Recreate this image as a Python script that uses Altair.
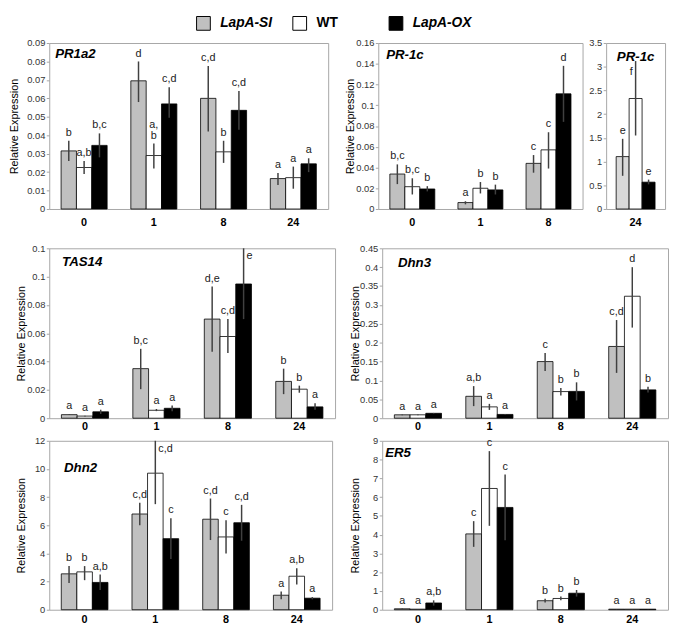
import altair as alt
import pandas as pd

GENOS = ["LapA-SI", "WT", "LapA-OX"]
FILLS = ["#c0c0c0", "#ffffff", "#000000"]
FILLS_24 = ["#d9d9d9", "#ffffff", "#000000"]
T4 = ["0", "1", "8", "24"]
T3 = ["0", "1", "8"]
T1 = ["24"]

# PR1a2
pr1a2_mean = [[0.0315, 0.0225, 0.0345], [0.0695, 0.029, 0.057], [0.060, 0.031, 0.0535], [0.0165, 0.017, 0.0245]]
pr1a2_lo = [[0.026, 0.019, 0.028], [0.058, 0.022, 0.0495], [0.042, 0.025, 0.043], [0.013, 0.011, 0.020]]
pr1a2_hi = [[0.037, 0.026, 0.041], [0.080, 0.0355, 0.066], [0.0775, 0.037, 0.064], [0.0195, 0.023, 0.0275]]
pr1a2_let = [["b", "a,b", "b,c"], ["d", "a,\nb", "c,d"], ["c,d", "b", "c,d"], ["a", "a", "a"]]
pr1a2_ticks = [0, 0.01, 0.02, 0.03, 0.04, 0.05, 0.06, 0.07, 0.08, 0.09]

# PR-1c (0, 1, 8 h)
pr1c_mean = [[0.0337, 0.0215, 0.0193], [0.0062, 0.020, 0.0184], [0.044, 0.057, 0.111]]
pr1c_lo = [[0.024, 0.014, 0.017], [0.0045, 0.015, 0.014], [0.035, 0.039, 0.084]]
pr1c_hi = [[0.043, 0.0296, 0.022], [0.0075, 0.026, 0.0235], [0.052, 0.074, 0.138]]
pr1c_let = [["b,c", "b,c", "b"], ["a", "b", "b"], ["c", "c", "d"]]
pr1c_ticks = [0, 0.02, 0.04, 0.06, 0.08, 0.1, 0.12, 0.14, 0.16]

# PR-1c (24 h)
pr1c24_mean = [[1.105, 2.33, 0.566]]
pr1c24_lo = [[0.70, 1.55, 0.52]]
pr1c24_hi = [[1.48, 3.12, 0.62]]
pr1c24_let = [["e", "f", "e"]]
pr1c24_ticks = [0, 0.5, 1, 1.5, 2, 2.5, 3, 3.5]

# TAS14
tas14_mean = [[0.0025, 0.0015, 0.0045], [0.035, 0.0056, 0.007], [0.070, 0.0577, 0.0948], [0.026, 0.0205, 0.008]]
tas14_lo = [[0.0022, 0.0012, 0.003], [0.0205, 0.005, 0.005], [0.047, 0.046, 0.070], [0.017, 0.018, 0.006]]
tas14_hi = [[0.0028, 0.0018, 0.006], [0.049, 0.0065, 0.009], [0.093, 0.070, 0.12], [0.035, 0.023, 0.0105]]
tas14_let = [["a", "a", "a"], ["b,c", "a", "a"], ["d,e", "c,d", "e"], ["b", "b", "a"]]
tas14_ticks = [0, 0.02, 0.04, 0.06, 0.08, 0.1, 0.12]

# Dhn3
dhn3_mean = [[0.009, 0.009, 0.013], [0.058, 0.030, 0.010], [0.150, 0.0705, 0.071], [0.19, 0.323, 0.075]]
dhn3_lo = [[0.008, 0.008, 0.012], [0.032, 0.022, 0.009], [0.125, 0.06, 0.047], [0.12, 0.24, 0.068]]
dhn3_hi = [[0.010, 0.010, 0.014], [0.085, 0.038, 0.011], [0.173, 0.08, 0.095], [0.26, 0.40, 0.083]]
dhn3_let = [["a", "a", "a"], ["a,b", "a", "a"], ["c", "b", "b"], ["c,d", "d", "b"]]
dhn3_ticks = [0, 0.05, 0.1, 0.15, 0.2, 0.25, 0.3, 0.35, 0.4, 0.45]

# Dhn2
dhn2_mean = [[2.55, 2.69, 1.94], [6.8, 9.7, 5.05], [6.43, 5.17, 6.18], [1.03, 2.38, 0.82]]
dhn2_lo = [[1.9, 2.1, 1.4], [6.0, 7.5, 3.6], [4.95, 4.0, 4.9], [0.75, 1.8, 0.74]]
dhn2_hi = [[3.1, 3.1, 2.5], [7.6, 12.0, 6.5], [7.9, 6.35, 7.45], [1.3, 2.95, 0.9]]
dhn2_let = [["b", "b", "a,b"], ["c,d", "c,d", "c"], ["c,d", "c", "c,d"], ["a", "a,b", "a"]]
dhn2_ticks = [0, 2, 4, 6, 8, 10, 12]

# ER5
er5_mean = [[0.05, 0.03, 0.36], [4.04, 6.46, 5.45], [0.48, 0.6, 0.88], [0.03, 0.03, 0.03]]
er5_lo = [[0.04, 0.02, 0.22], [3.35, 4.47, 3.7], [0.38, 0.5, 0.7], [0.02, 0.02, 0.02]]
er5_hi = [[0.06, 0.04, 0.5], [4.72, 8.45, 7.2], [0.58, 0.7, 1.05], [0.04, 0.04, 0.04]]
er5_let = [["a", "a", "a,b"], ["c", "c", "c"], ["b", "b", "b"], ["a", "a", "a"]]
er5_ticks = [0, 1, 2, 3, 4, 5, 6, 7, 8, 9]

FONT = "Liberation Sans"


def panel(gene, times, means, lows, highs, letters, ymax, yticks, w, h, extent, lab_pad,
          ytitle=True, fills=FILLS, side=None, gene_xy=(6, 4), gene_center=False):
    side = side or {}
    rows = []
    for i, t in enumerate(times):
        for j, g in enumerate(GENOS):
            lt = letters[i][j]
            pos = side.get((t, g), "top2" if "\n" in lt else "top")
            rows.append(dict(time=t, geno=g, col=fills[j], mean=means[i][j], lo=lows[i][j],
                             hi=highs[i][j], letter=lt, side=pos))
    df = pd.DataFrame(rows)
    base = alt.Chart(df)
    title = "Relative Expression" if ytitle else None
    x = alt.X("time:N", sort=times, title=None,
              scale=alt.Scale(paddingInner=0.34, paddingOuter=0.17),
              axis=alt.Axis(labelAngle=0, labelFontSize=11, labelFontWeight="bold",
                            labelColor="black", labelPadding=lab_pad, ticks=False, domain=False))
    xo = alt.XOffset("geno:N", sort=GENOS, scale=alt.Scale(paddingInner=0, paddingOuter=0))
    yscale = alt.Scale(domain=[0, ymax], nice=False, zero=True)
    yaxis = alt.Axis(values=yticks, format="~g", labelFontSize=9.5, labelColor="#333333",
                     labelPadding=1.5, tickSize=3, tickColor="#a6a6a6", domain=False, grid=False,
                     labelOverlap=False,
                     minExtent=extent, maxExtent=extent, titleFontSize=11, titleFontWeight="normal",
                     titleColor="black", titlePadding=1)

    def yenc(field):
        return alt.Y(field, type="quantitative", scale=yscale, axis=yaxis, title=title)

    bars = base.mark_bar(stroke="black", strokeWidth=0.8).encode(
        x=x, xOffset=xo, y=yenc("mean"), fill=alt.Fill("col:N", scale=None))
    err = base.mark_rule(color="#404040", strokeWidth=1.5).encode(
        x=x, xOffset=xo, y=yenc("lo"), y2="hi:Q")
    tk = dict(fontSize=11, color="#222222")
    t_top = base.transform_filter("datum.side == 'top'").mark_text(
        baseline="bottom", dy=-3, **tk).encode(x=x, xOffset=xo, y=yenc("hi"), text="letter:N")
    t_top2 = base.transform_filter("datum.side == 'top2'").mark_text(
        baseline="bottom", dy=-14, lineBreak="\n", lineHeight=11, **tk).encode(
        x=x, xOffset=xo, y=yenc("hi"), text="letter:N")
    t_right = base.transform_filter("datum.side == 'right'").mark_text(
        baseline="top", align="left", dx=3, dy=2, **tk).encode(
        x=x, xOffset=xo, y=yenc("hi"), text="letter:N")
    t_left = base.transform_filter("datum.side == 'left'").mark_text(
        baseline="top", align="right", dx=-3, dy=5, **tk).encode(
        x=x, xOffset=xo, y=yenc("hi"), text="letter:N")
    gdf = pd.DataFrame({"gene": [gene]})
    glabel = alt.Chart(gdf).mark_text(
        align="center" if gene_center else "left", baseline="top", fontSize=13.5,
        fontWeight="bold", fontStyle="italic", color="black").encode(
        x=alt.value(w / 2 if gene_center else gene_xy[0]), y=alt.value(gene_xy[1]), text="gene:N")
    return alt.layer(bars, err, t_top, t_top2, t_right, t_left, glabel).properties(width=w, height=h)


p_pr1a2 = panel("PR1a2", T4, pr1a2_mean, pr1a2_lo, pr1a2_hi, pr1a2_let, 0.09, pr1a2_ticks,
                284, 169, 29, 8, gene_xy=(6, 4))
p_pr1c = panel("PR-1c", T3, pr1c_mean, pr1c_lo, pr1c_hi, pr1c_let, 0.16, pr1c_ticks,
               208, 169, 22, 8, gene_xy=(8, 5))
p_pr1c24 = panel("PR-1c", T1, pr1c24_mean, pr1c24_lo, pr1c24_hi, pr1c24_let, 3.5, pr1c24_ticks,
                 60, 169, 18, 8, ytitle=False, fills=FILLS_24,
                 side={("24", "WT"): "left"}, gene_xy=(0, 7), gene_center=True)
p_tas14 = panel("TAS14", T4, tas14_mean, tas14_lo, tas14_hi, tas14_let, 0.12, tas14_ticks,
                291, 173, 22, 3, side={("8", "LapA-OX"): "right"}, gene_xy=(13, 7))
p_dhn3 = panel("Dhn3", T4, dhn3_mean, dhn3_lo, dhn3_hi, dhn3_let, 0.45, dhn3_ticks,
               291, 173, 21, 3, gene_xy=(16, 8))
p_dhn2 = panel("Dhn2", T4, dhn2_mean, dhn2_lo, dhn2_hi, dhn2_let, 12, dhn2_ticks,
               288, 172, 22, 4, side={("1", "WT"): "right"}, gene_xy=(15, 21))
p_er5 = panel("ER5", T4, er5_mean, er5_lo, er5_hi, er5_let, 9, er5_ticks,
              291, 172, 21, 4, gene_xy=(3, 6))

# legend (its origin sits above the first plot's left edge)
LEG_Y = 1
leg_df = pd.DataFrame({"geno": GENOS, "col": FILLS})
lx = alt.X("geno:N", sort=GENOS, axis=None,
           scale=alt.Scale(type="point", domain=GENOS, range=[157, 353], padding=0))
sq = alt.Chart(leg_df).mark_square(size=196, stroke="black", strokeWidth=1, opacity=1).encode(
    x=lx, y=alt.value(LEG_Y), fill=alt.Fill("col:N", scale=None))
lt_it = alt.Chart(leg_df).transform_filter("datum.geno != 'WT'").mark_text(
    align="left", dx=17, fontSize=14, fontWeight="bold", fontStyle="italic", color="black").encode(
    x=lx, y=alt.value(LEG_Y), text="geno:N")
lt_n = alt.Chart(leg_df).transform_filter("datum.geno == 'WT'").mark_text(
    align="left", dx=17, fontSize=14, fontWeight="bold", color="black").encode(
    x=lx, y=alt.value(LEG_Y), text="geno:N")
legend = alt.layer(sq, lt_it, lt_n).properties(
    width=560, height=2, view=alt.ViewBackground(stroke="transparent"))

res = dict(x="independent", y="independent", xOffset="independent")
row1 = alt.hconcat(p_pr1a2, alt.hconcat(p_pr1c, p_pr1c24, spacing=4).resolve_scale(**res),
                   spacing=15).resolve_scale(**res)
row2 = alt.hconcat(p_tas14, p_dhn3, spacing=13).resolve_scale(**res)
row3 = alt.hconcat(p_dhn2, p_er5, spacing=16).resolve_scale(**res)

bottom = alt.vconcat(row2, row3, spacing=2).resolve_scale(**res)
body = alt.vconcat(row1, bottom, spacing=14).resolve_scale(**res)
chart = alt.vconcat(legend, body, spacing=4).resolve_scale(**res).properties(
    padding={"left": 0, "top": 0, "right": 0, "bottom": 0}
).configure(font=FONT).configure_view(stroke="#a6a6a6", strokeWidth=1)

chart.save("out.html", embed_options={"renderer": "svg", "actions": False})
